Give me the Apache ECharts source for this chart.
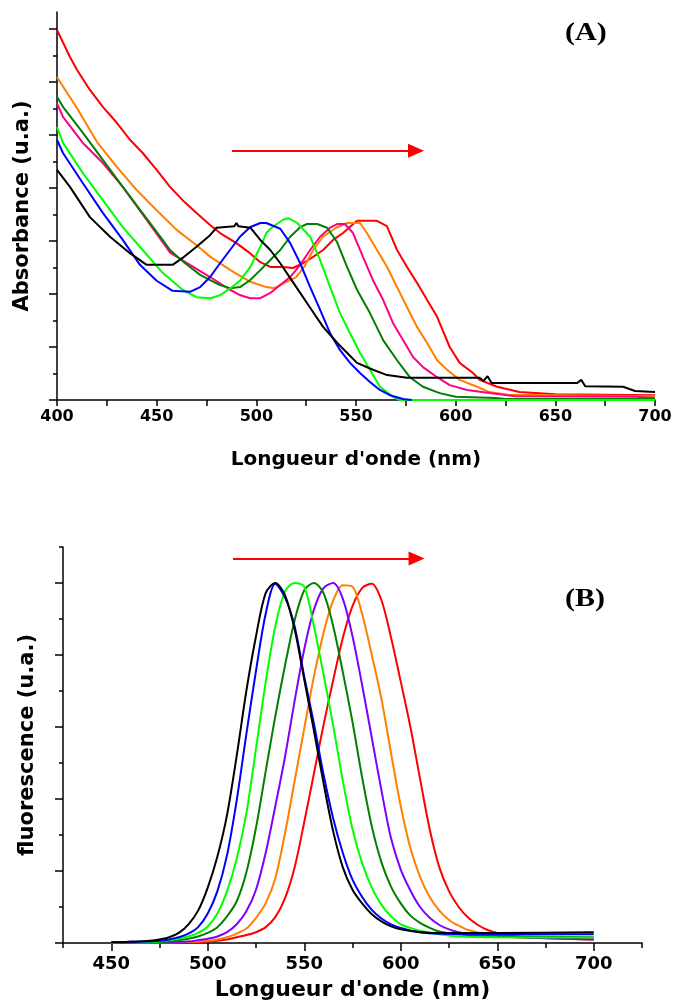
<!DOCTYPE html>
<html>
<head>
<meta charset="utf-8">
<script src="https://cdn.jsdelivr.net/npm/echarts/dist/echarts.min.js"></script>
<style>
html,body{margin:0;padding:0;background:#fff;}
#chart{width:673px;height:1005px;}
</style>
</head>
<body>
<div id="chart"></div>
<script>
// ---------- Panel A: absorbance (nm, a.u.) ----------
const absRed = [[400,6.98],[406.5,6.47],[410,6.23],[416.5,5.85],[423,5.53],[430,5.23],[436.6,4.91],[443,4.66],[450,4.34],[456.7,4.02],[463,3.77],[470,3.53],[476.8,3.30],[481.8,3.15],[490,2.96],[496.8,2.77],[502,2.60],[507,2.51],[513.4,2.51],[518.4,2.49],[523.4,2.58],[528.5,2.70],[533.5,2.83],[538.5,3.02],[543.5,3.15],[550.5,3.38],[560.5,3.38],[565.5,3.28],[570.6,2.83],[575.6,2.51],[580.6,2.21],[585.6,1.89],[590.7,1.57],[597,1.00],[602,0.70],[608.7,0.51],[612,0.38],[620.8,0.25],[632,0.15],[650,0.11],[700,0.09]];
const absOrange = [[400,6.09],[410,5.51],[420,4.87],[430,4.40],[440,3.96],[450,3.58],[460,3.21],[470,2.92],[477,2.70],[487,2.45],[497,2.23],[505,2.13],[509,2.11],[514,2.21],[520,2.32],[524,2.51],[528.5,2.83],[533.5,3.08],[540,3.25],[545.5,3.34],[552,3.34],[555.5,3.15],[560.5,2.83],[565.6,2.51],[570.6,2.13],[575.6,1.75],[580.6,1.38],[585.6,1.08],[590.7,0.75],[595.7,0.57],[602,0.38],[610.7,0.25],[617,0.15],[626,0.10],[700,0.07]];
const absPink = [[400,5.60],[403,5.34],[413,4.85],[423,4.47],[433,4.02],[443,3.50],[453,2.98],[456.7,2.78],[466.7,2.55],[476.8,2.32],[486.8,2.08],[491.8,1.98],[496.8,1.92],[502,1.92],[507,2.02],[512,2.17],[517,2.32],[522,2.55],[527,2.83],[532,3.08],[537,3.25],[540.5,3.32],[544.5,3.32],[548.5,3.15],[553.5,2.70],[558.5,2.26],[563.6,1.89],[568.6,1.45],[573.6,1.13],[578.6,0.81],[583.6,0.62],[590.7,0.43],[597,0.28],[605.7,0.19],[617,0.13],[630,0.07],[690,0.06],[700,0.04]];
const absDarkGreen = [[400,5.72],[403,5.53],[413,5.04],[423,4.53],[433,4.02],[443,3.52],[453,3.02],[456.7,2.83],[463,2.62],[466.7,2.51],[471.8,2.36],[476.8,2.26],[481.8,2.17],[486.8,2.11],[491.8,2.13],[496.8,2.26],[502,2.45],[507,2.64],[512,2.83],[517,3.08],[522,3.26],[525.4,3.32],[530.5,3.32],[535.5,3.25],[540.5,2.98],[545.5,2.51],[550.5,2.08],[557,1.64],[563.6,1.13],[570.6,0.75],[577,0.43],[583.6,0.25],[592,0.13],[600,0.06],[620,0.04],[625,0.02],[700,0.02]];
const absLime = [[400,5.15],[403,4.85],[413,4.28],[423,3.77],[433,3.26],[443,2.83],[453,2.40],[463,2.08],[470,1.94],[477,1.92],[482,1.98],[487,2.11],[492,2.26],[497,2.51],[502,2.89],[505,3.15],[508,3.26],[513.4,3.40],[516,3.43],[520.5,3.34],[527,3.08],[532,2.64],[537,2.13],[542,1.64],[547,1.26],[552,0.89],[557,0.57],[562,0.25],[568.6,0.06],[572,0],[700,0]];
const absBlue = [[400,4.91],[403,4.66],[413,4.09],[423,3.53],[433,3.02],[441.6,2.55],[450,2.25],[458,2.06],[466.7,2.04],[471.8,2.13],[476.8,2.32],[481.8,2.58],[486.8,2.83],[491.8,3.08],[496.8,3.26],[502,3.34],[505,3.34],[512,3.23],[517,2.96],[522,2.58],[527,2.13],[532,1.70],[537,1.26],[542,0.94],[547,0.70],[552,0.51],[557,0.34],[562,0.19],[567,0.09],[573.6,0.02],[578,0]];
const absBlack = [[400,4.34],[406.5,4.02],[416.5,3.45],[426.6,3.08],[436.6,2.77],[445,2.55],[458,2.55],[463,2.68],[470,2.89],[476.8,3.11],[480,3.25],[489,3.28],[490,3.34],[491,3.28],[497,3.25],[502,3.02],[507,2.83],[512,2.58],[517,2.30],[522,2.02],[527,1.74],[533.5,1.38],[540.5,1.08],[545.5,0.89],[550.5,0.70],[558.5,0.57],[565.6,0.47],[575.6,0.42],[612,0.42],[614,0.36],[616,0.45],[618,0.32],[661,0.32],[663,0.38],[665,0.26],[684,0.25],[690,0.17],[700,0.15]];

// ---------- Panel B: fluorescence (nm, a.u.) ----------
const flRed = [[450,0],[490,0.01],[500,0.02],[510,0.05],[515,0.08],[520,0.11],[525,0.15],[530,0.22],[535,0.36],[540,0.62],[545,1.05],[550,1.68],[555,2.35],[560,3.03],[565,3.65],[570,4.24],[575,4.68],[580,4.93],[585,4.99],[590,4.76],[595,4.24],[600,3.63],[605,3.00],[610,2.28],[615,1.58],[620,1.05],[625,0.72],[630,0.50],[635,0.35],[640,0.25],[645,0.18],[650,0.14],[660,0.09],[675,0.07],[700,0.05]];
const flOrange = [[450,0],[480,0.01],[495,0.02],[500,0.03],[505,0.05],[510,0.08],[515,0.13],[520,0.20],[525,0.35],[530,0.55],[535,0.90],[540,1.52],[545,2.25],[550,2.98],[555,3.70],[560,4.31],[565,4.76],[570,4.97],[575,4.95],[580,4.57],[585,4.00],[590,3.39],[595,2.63],[600,1.90],[605,1.32],[610,0.92],[615,0.64],[620,0.45],[625,0.32],[630,0.24],[635,0.18],[645,0.12],[660,0.08],[700,0.05]];
const flPurple = [[450,0],[470,0.01],[490,0.02],[495,0.04],[500,0.06],[505,0.09],[510,0.15],[515,0.26],[520,0.44],[525,0.74],[530,1.25],[535,1.90],[540,2.58],[545,3.36],[550,4.08],[555,4.63],[560,4.93],[565,5.00],[570,4.78],[575,4.26],[580,3.58],[585,2.85],[590,2.12],[595,1.45],[600,1.02],[605,0.73],[610,0.50],[615,0.35],[620,0.25],[625,0.19],[630,0.15],[640,0.10],[700,0.05]];
const flDarkGreen = [[450,0],[460,0.01],[470,0.01],[480,0.02],[485,0.04],[490,0.06],[495,0.09],[500,0.14],[505,0.22],[510,0.37],[515,0.58],[520,0.98],[525,1.60],[530,2.38],[535,3.15],[540,3.85],[545,4.48],[550,4.90],[555,5.00],[560,4.86],[565,4.40],[570,3.76],[575,3.07],[580,2.30],[585,1.62],[590,1.12],[595,0.78],[600,0.55],[605,0.38],[610,0.28],[615,0.21],[620,0.16],[630,0.12],[640,0.10],[700,0.08]];
const flLime = [[450,0],[460,0.01],[470,0.01],[475,0.02],[480,0.04],[485,0.06],[490,0.09],[495,0.14],[500,0.23],[505,0.41],[510,0.72],[515,1.17],[520,1.80],[525,2.70],[530,3.62],[535,4.40],[540,4.88],[545,5.00],[550,4.95],[555,4.40],[560,3.73],[565,3.02],[570,2.25],[575,1.58],[580,1.11],[585,0.77],[590,0.53],[595,0.37],[600,0.26],[605,0.21],[610,0.17],[620,0.12],[630,0.09],[650,0.08],[700,0.075]];
const flBlue = [[450,0.01],[455,0.01],[460,0.01],[465,0.02],[470,0.02],[475,0.03],[480,0.05],[485,0.08],[490,0.13],[495,0.22],[500,0.41],[505,0.72],[510,1.22],[515,1.98],[520,2.90],[525,3.78],[530,4.57],[535,4.99],[540,4.80],[545,4.40],[550,3.70],[555,3.05],[560,2.34],[565,1.73],[570,1.25],[575,0.88],[580,0.64],[585,0.46],[590,0.34],[595,0.26],[600,0.21],[610,0.15],[620,0.13],[650,0.12],[700,0.12]];
const flBlack = [[450,0.01],[455,0.01],[460,0.02],[465,0.02],[470,0.03],[475,0.05],[480,0.08],[485,0.14],[490,0.26],[495,0.45],[500,0.77],[505,1.20],[510,1.78],[515,2.60],[520,3.50],[525,4.26],[530,4.86],[535,5.00],[540,4.83],[545,4.36],[550,3.66],[555,2.95],[560,2.22],[565,1.55],[570,1.05],[575,0.74],[580,0.55],[585,0.40],[590,0.30],[595,0.23],[600,0.19],[610,0.15],[620,0.14],[650,0.14],[700,0.15]];

// ---------- axes / annotations ----------
const xLabelsB = [450,500,550,600,650,700];
const xMinorB = [425,475,525,575,625,675,725];
const yMajorA = [0,1,2,3,4,5,6,7];
const yMinorA = [0.5,1.5,2.5,3.5,4.5,5.5,6.5];
const yMajorB = [0,1,2,3,4,5];
const yMinorB = [0.5,1.5,2.5,3.5,4.5,5.5];
const arrowA = [[487.8,4.70],[580.1,4.70]];
const arrowB = [[513.1,5.34],[608.2,5.34]];

const FONT = '"DejaVu Sans", Arial, sans-serif';
const AX = {color:'#000', width:1.5};

function line(data, color, xi, yi, smooth, extra) {
  const s = {type:'line', data:data, xAxisIndex:xi, yAxisIndex:yi, symbol:'none', showSymbol:false,
    smooth:smooth, lineStyle:{color:color, width:2}, itemStyle:{color:color},
    silent:true, animation:false, emphasis:{disabled:true}};
  return Object.assign(s, extra||{});
}
function arrow(pts) {
  return {silent:true, symbol:['none','triangle'], symbolSize:[14,16], label:{show:false},
    lineStyle:{color:'#ff0000', width:2, type:'solid'}, emphasis:{disabled:true},
    data:[[{coord:pts[0]},{coord:pts[1]}]]};
}

const chart = echarts.init(document.getElementById('chart'), null, {renderer:'canvas'});
const option = {
  animation:false,
  backgroundColor:'#fff',
  grid:[
    {left:57, right:18, top:12, bottom:605, containLabel:false, outerBoundsMode:'none'},
    {left:63, right:31, top:547, bottom:62, containLabel:false, outerBoundsMode:'none'}
  ],
  xAxis:[
    {gridIndex:0, type:'value', min:400, max:700, interval:50,
     axisLine:{onZero:false, lineStyle:AX}, axisTick:{inside:false, length:6, lineStyle:AX},
     minorTick:{show:true, splitNumber:2, length:6, lineStyle:AX}, splitLine:{show:false},
     axisLabel:{color:'#000', fontFamily:FONT, fontWeight:'bold', fontSize:16, margin:9},
     name:"Longueur d'onde (nm)", nameLocation:'middle', nameGap:50,
     nameTextStyle:{color:'#000', fontFamily:FONT, fontWeight:'bold', fontSize:20}},
    {gridIndex:1, type:'value', min:425, max:725,
     axisLine:{onZero:false, lineStyle:AX}, axisTick:{inside:false, length:5, lineStyle:AX, customValues:xMinorB},
     splitLine:{show:false},
     axisLabel:{color:'#000', fontFamily:FONT, fontWeight:'bold', fontSize:18, margin:12, customValues:xLabelsB},
     name:"Longueur d'onde (nm)", nameLocation:'middle', nameGap:36,
     nameTextStyle:{color:'#000', fontFamily:FONT, fontWeight:'bold', fontSize:22}},
    {gridIndex:1, type:'value', min:425, max:725, position:'bottom', offset:0,
     axisLine:{show:false}, axisTick:{show:true, inside:false, length:8, lineStyle:AX, customValues:xLabelsB},
     axisLabel:{show:false}, splitLine:{show:false}}
  ],
  yAxis:[
    {gridIndex:0, type:'value', min:0, max:7.32,
     axisLine:{show:true, onZero:false, lineStyle:AX}, axisTick:{show:true, inside:false, length:8, lineStyle:AX, customValues:yMajorA},
     axisLabel:{show:false}, splitLine:{show:false},
     name:'Absorbance (u.a.)', nameLocation:'middle', nameGap:24, nameRotate:90,
     nameTextStyle:{color:'#000', fontFamily:FONT, fontWeight:'bold', fontSize:21}},
    {gridIndex:1, type:'value', min:0, max:5.5,
     axisLine:{show:true, onZero:false, lineStyle:AX}, axisTick:{show:true, inside:false, length:8, lineStyle:AX, customValues:yMajorB},
     axisLabel:{show:false}, splitLine:{show:false},
     name:'fluorescence (u.a.)', nameLocation:'middle', nameGap:25, nameRotate:90,
     nameTextStyle:{color:'#000', fontFamily:FONT, fontWeight:'bold', fontSize:21}},
    {gridIndex:0, type:'value', min:0, max:7.32, position:'left', offset:0,
     axisLine:{show:false}, axisTick:{show:true, inside:false, length:4, lineStyle:AX, customValues:yMinorA},
     axisLabel:{show:false}, splitLine:{show:false}},
    {gridIndex:1, type:'value', min:0, max:5.5, position:'left', offset:0,
     axisLine:{show:false}, axisTick:{show:true, inside:false, length:4, lineStyle:AX, customValues:yMinorB},
     axisLabel:{show:false}, splitLine:{show:false}}
  ],
  graphic:[
    {type:'text', x:565, y:34, scaleX:1.2, silent:true,
     style:{text:'(A)', font:'bold 25px "Liberation Serif", "Times New Roman", serif', fill:'#000',
            textAlign:'left', textVerticalAlign:'middle', align:'left', verticalAlign:'middle'}},
    {type:'text', x:565, y:600, scaleX:1.2, silent:true,
     style:{text:'(B)', font:'bold 25px "Liberation Serif", "Times New Roman", serif', fill:'#000',
            textAlign:'left', textVerticalAlign:'middle', align:'left', verticalAlign:'middle'}}
  ],
  series:[
    line(absRed, '#ff0000', 0, 0, false, {markLine:arrow(arrowA)}),
    line(absOrange, '#ff8000', 0, 0, false),
    line(absPink, '#ff0080', 0, 0, false),
    line(absDarkGreen, '#008000', 0, 0, false),
    line(absLime, '#00ff00', 0, 0, false),
    line(absBlue, '#0000ff', 0, 0, false),
    line(absBlack, '#000000', 0, 0, false),
    line(flRed, '#ff0000', 1, 1, 0.3, {markLine:arrow(arrowB)}),
    line(flOrange, '#ff8000', 1, 1, 0.3),
    line(flPurple, '#8000ff', 1, 1, 0.3),
    line(flDarkGreen, '#008000', 1, 1, 0.3),
    line(flLime, '#00ff00', 1, 1, 0.3),
    line(flBlue, '#0000ff', 1, 1, 0.3),
    line(flBlack, '#000000', 1, 1, 0.3)
  ]
};
chart.setOption(option);
</script>
</body>
</html>
